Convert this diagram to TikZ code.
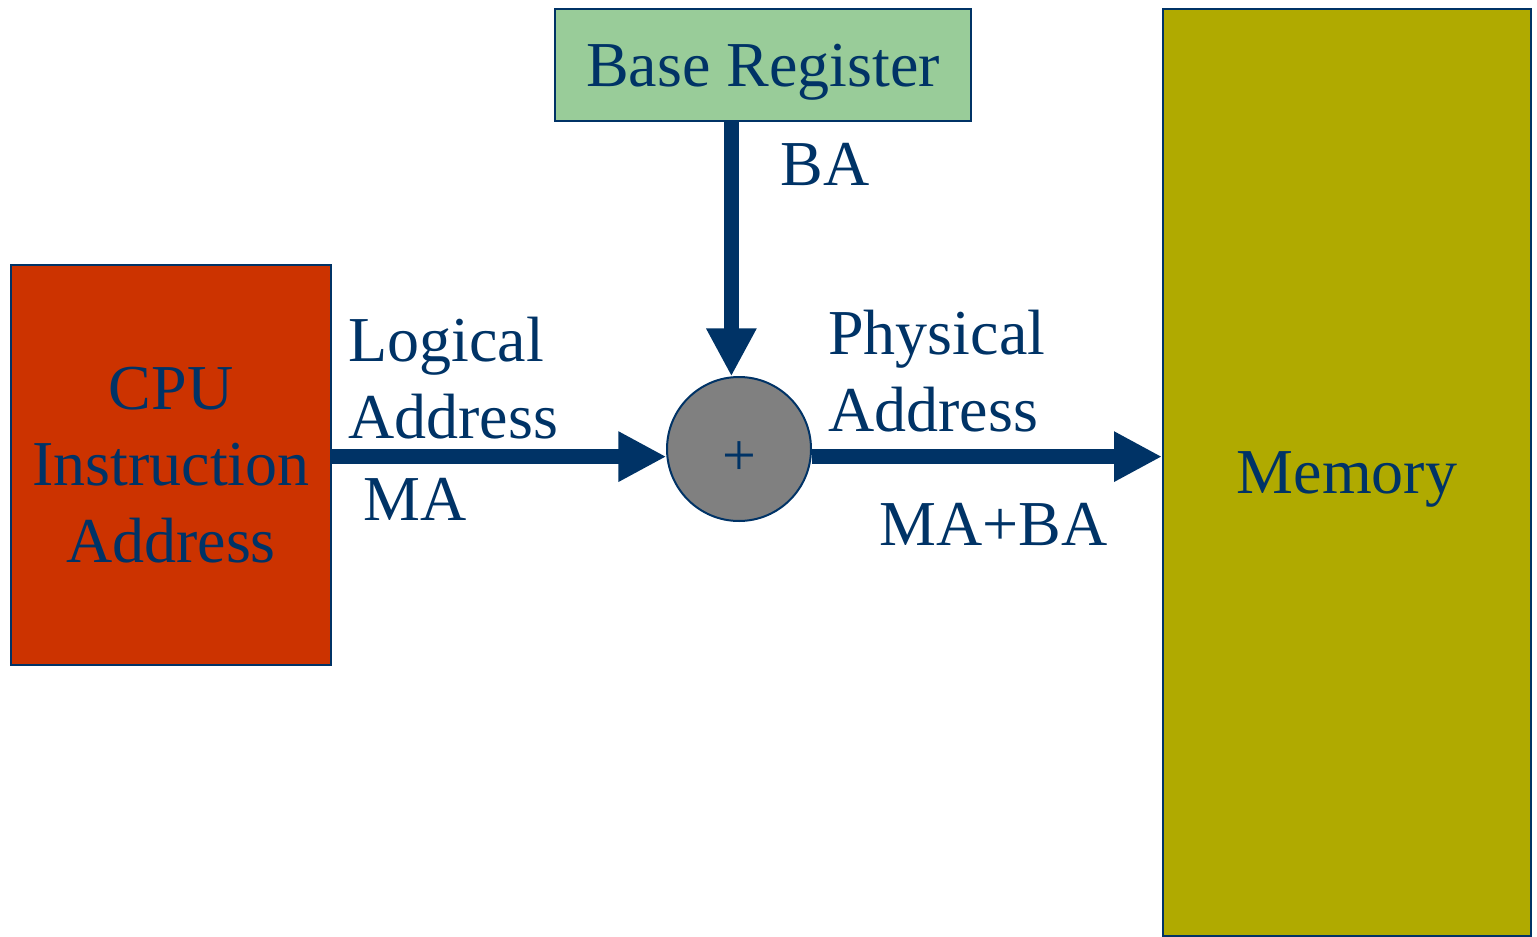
\documentclass[tikz,border=0pt]{standalone}
\usepackage{fontspec}
\setmainfont{Liberation Serif}
\usetikzlibrary{arrows.meta}
\definecolor{ink}{RGB}{0,51,102}
\definecolor{regfill}{RGB}{153,204,153}
\definecolor{cpufill}{RGB}{204,51,0}
\definecolor{memfill}{RGB}{176,170,0}
\definecolor{sumfill}{RGB}{128,128,128}
\begin{document}
\begin{tikzpicture}[x=0.5pt,y=-0.5pt,
  every node/.style={text=ink, font=\fontsize{32}{38.4}\selectfont},
  block/.style={draw=ink, line width=1pt, inner sep=0pt},
  bus/.style={draw=ink, line width=7.5pt, -{Triangle[length=24pt,width=23.5pt]}},
  tag/.style={anchor=base west, inner sep=0pt, align=left}]
\useasboundingbox (0,0) rectangle (1537,937);

% functional blocks
\node[block, fill=cpufill, minimum width=160pt, minimum height=200pt, align=center]
  (cpu) at (171,465) {CPU\\Instruction\\Address};
\node[block, fill=regfill, minimum width=208pt, minimum height=56pt, text depth=0pt]
  (base) at (763,65) {Base Register};
\node[block, fill=memfill, minimum width=184pt, minimum height=463.5pt, text depth=0pt]
  (mem) at (1347,472.5) {Memory};

% adder
\node[circle, draw=ink, line width=1pt, fill=sumfill, minimum size=72pt, inner sep=0pt]
  (sum) at (739,449) {};
\node[font=\fontsize{30}{36}\selectfont, inner sep=0pt] (plus) at (739,459) {+};

% address buses
\draw[bus] (cpu.east |- sum.186) -- (sum.186);
\draw[bus] (base.south -| sum.96) -- (sum.96);
\draw[bus] (sum.354) -- (mem.west |- sum.354);

% bus labels (multi-line labels are anchored on their last line)
\node[tag] (ba) at (780,185) {BA};
\node[tag] (logical) at (348,438) {Logical\\Address};
\node[tag] (ma) at (363,520) {MA};
\node[tag] (physical) at (828,431) {Physical\\Address};
\node[tag] (sumlabel) at (879,545) {MA+BA};
\end{tikzpicture}
\end{document}
